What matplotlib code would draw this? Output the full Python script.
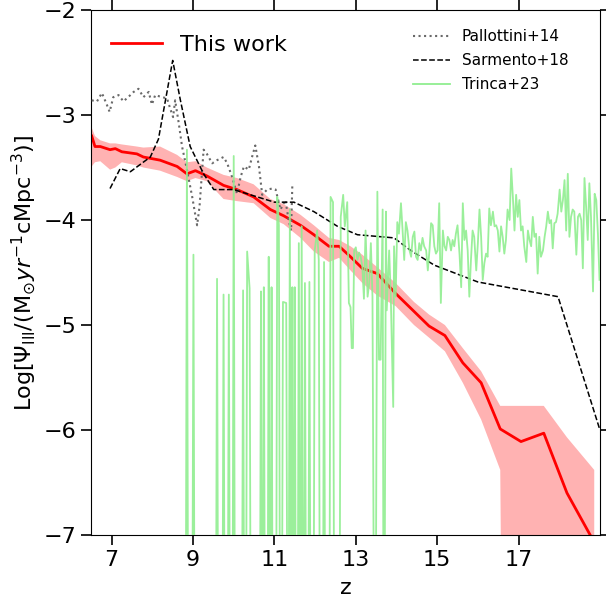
import matplotlib

matplotlib.use("Agg")
import matplotlib.pyplot as plt
import numpy as np
from matplotlib.lines import Line2D

# ------------------------------------------------------------
# This work: median Pop III SFRD and its spread
# ------------------------------------------------------------
this_z = [6.51, 6.59, 6.72, 6.96, 7.09, 7.25, 7.62, 7.78, 8.19, 8.61, 8.85,
          9.06, 9.34, 9.75, 10.08, 10.49, 10.90, 11.23, 11.64, 11.97, 12.34,
          12.59, 12.87, 13.16, 13.53, 13.98, 14.43, 14.80, 15.19, 15.63, 16.08,
          16.55, 17.06, 17.62, 18.19, 18.86]
this_sfr = [-3.20, -3.30, -3.30, -3.33, -3.32, -3.35, -3.37, -3.40, -3.43,
            -3.49, -3.56, -3.53, -3.58, -3.67, -3.71, -3.78, -3.90, -3.96,
            -4.05, -4.14, -4.25, -4.25, -4.35, -4.46, -4.51, -4.70, -4.87,
            -5.01, -5.10, -5.36, -5.55, -5.99, -6.11, -6.03, -6.60, -7.07]
this_hi = [-3.12, -3.20, -3.24, -3.27, -3.27, -3.28, -3.30, -3.31, -3.30,
           -3.38, -3.45, -3.44, -3.50, -3.57, -3.60, -3.66, -3.80, -3.85,
           -3.95, -4.05, -4.17, -4.19, -4.25, -4.33, -4.45, -4.60, -4.78,
           -4.90, -5.00, -5.22, -5.44, -5.77, -5.77, -5.77, -6.07, -6.38]
this_lo = [-3.49, -3.45, -3.44, -3.52, -3.50, -3.45, -3.48, -3.50, -3.53,
           -3.59, -3.63, -3.60, -3.63, -3.80, -3.82, -3.84, -3.98, -4.04,
           -4.17, -4.30, -4.40, -4.36, -4.48, -4.60, -4.72, -4.82, -5.00,
           -5.12, -5.25, -5.55, -5.90, -6.38, -30.0, -30.0, -30.0, -30.0]

# ------------------------------------------------------------
# Literature curves
# ------------------------------------------------------------
pallottini_z = [6.51, 6.64, 6.76, 6.88, 6.95, 7.04, 7.17, 7.29, 7.46, 7.54,
                7.66, 7.78, 7.91, 7.99, 8.07, 8.24, 8.36, 8.44, 8.51, 8.56,
                8.65, 8.73, 8.85, 8.98, 9.10, 9.16, 9.26, 9.34, 9.47, 9.59,
                9.75, 9.84, 9.96, 10.08, 10.17, 10.25, 10.37, 10.45, 10.53,
                10.62, 10.70, 10.82, 10.95, 11.03, 11.15, 11.27, 11.35, 11.41,
                11.44]
pallottini_sfr = [-2.86, -2.87, -2.79, -2.90, -2.97, -2.83, -2.81, -2.87,
                  -2.81, -2.78, -2.75, -2.83, -2.78, -2.90, -2.81, -2.83,
                  -2.84, -2.94, -3.02, -2.86, -3.08, -3.30, -3.52, -3.78,
                  -4.05, -3.87, -3.33, -3.37, -3.46, -3.43, -3.40, -3.46,
                  -3.59, -3.75, -3.59, -3.49, -3.52, -3.40, -3.29, -3.49,
                  -3.76, -3.71, -3.70, -3.71, -3.90, -3.81, -4.00, -4.10,
                  -3.67]

sarmento_z = [6.96, 7.21, 7.46, 7.95, 8.15, 8.28, 8.50, 8.69, 8.93, 9.26,
              9.51, 10.00, 10.58, 11.00, 11.48, 11.97, 12.55, 13.04, 13.94,
              14.35, 14.93, 16.00, 17.97, 19.00]
sarmento_sfr = [-3.70, -3.51, -3.54, -3.40, -3.23, -2.95, -2.48, -2.86,
                -3.30, -3.56, -3.71, -3.71, -3.78, -3.83, -3.83, -3.92,
                -4.06, -4.14, -4.17, -4.29, -4.43, -4.59, -4.73, -6.00]

# Trinca+23: empty bins are stored as a floor value far below the plot
E = -10.0
trinca_z = [
    8.81, 8.85, 8.89, 8.97, 9.01, 9.05, 9.55, 9.59, 9.63, 9.71, 9.75, 9.79,
    9.84, 9.88, 9.92, 9.96, 10.00, 10.04, 10.19, 10.23, 10.27, 10.29, 10.33,
    10.39, 10.43, 10.63, 10.67, 10.705, 10.74, 10.78, 10.82, 10.86, 10.895,
    10.93, 10.97, 11.03, 11.07, 11.11, 11.15, 11.17, 11.21, 11.29, 11.335,
    11.38, 11.41, 11.44, 11.47, 11.50, 11.54, 11.56, 11.60, 11.635, 11.67,
    11.71, 11.75, 11.79, 11.82, 11.86, 11.90, 11.95, 11.99, 12.05, 12.09,
    12.13, 12.18, 12.22, 12.26, 12.34, 12.38, 12.44, 12.48, 12.59, 12.63,
    12.69, 12.73, 12.79, 12.83, 12.87, 12.90, 12.93, 12.96, 13.00, 13.04,
    13.08, 13.12, 13.16, 13.20, 13.24, 13.29, 13.33, 13.37, 13.41, 13.47,
    13.53, 13.57, 13.61, 13.66, 13.69, 13.74, 13.76, 13.82, 13.86, 13.92,
    13.94, 13.98, 14.02, 14.06,
    14.11, 14.15, 14.19, 14.23, 14.27, 14.32, 14.36, 14.40, 14.44, 14.48,
    14.52, 14.56, 14.60, 14.64, 14.68, 14.73, 14.77, 14.81, 14.85, 14.89,
    14.93, 14.97, 15.01, 15.05, 15.09, 15.14, 15.18, 15.22, 15.26, 15.30,
    15.34, 15.38, 15.42, 15.46, 15.50, 15.55, 15.59, 15.63, 15.67, 15.71,
    15.75, 15.79, 15.83, 15.87, 15.91, 15.96, 16.00, 16.04, 16.08, 16.12,
    16.16, 16.20, 16.24, 16.28, 16.32, 16.37, 16.41, 16.45, 16.49, 16.53,
    16.57, 16.61, 16.65, 16.69, 16.73, 16.78, 16.82, 16.86, 16.90, 16.94,
    16.98, 17.02, 17.06, 17.10, 17.14, 17.19, 17.23, 17.27, 17.31, 17.35,
    17.39, 17.43, 17.47, 17.51, 17.55, 17.60, 17.64, 17.68, 17.72, 17.76,
    17.80, 17.84, 17.88, 17.92, 17.96, 18.01, 18.05, 18.09, 18.13, 18.17,
    18.21, 18.25, 18.29, 18.33, 18.37, 18.42, 18.46, 18.50, 18.54, 18.58,
    18.62, 18.66, 18.70, 18.74, 18.78, 18.83, 18.87, 18.91, 18.95, 18.99,
]
trinca_sfr = [
    E, -3.33, E, E, -4.33, E, E, -4.56, E, E, -4.71, E,
    E, -4.71, E, E, -3.39, E, E, -4.67, E, E, -4.30,
    -4.65, E, E, -4.68, E, -4.64, E, E, -4.35, E,
    -4.64, E, E, -3.78, -4.05, E, E, -4.78, -4.79, E,
    -3.90, E, -4.64, E, -4.64, E, E, -4.22, E, -4.06,
    E, -4.60, E, E, -4.59, E, E, -4.29, -4.10, -4.38,
    E, E, -4.40, E, E, -3.78, -3.83, E, E, -3.97,
    -3.76, -4.06, -3.83, -4.79, -4.83, -5.22, -5.22, -4.29, -4.26, -4.38,
    -4.31, -4.35, -4.44, -4.75, -4.10, -4.73, -4.60, -4.22, -4.73, E,
    -3.73, -5.33, -5.33, -3.90, E, -3.92, -4.86, -4.29, -4.73, -5.78,
    -4.25, -4.73, -4.02, -4.13,
    -3.84, -4.10, -4.38, -4.02, -4.10, -4.29, -4.35, -4.16, -4.11, -4.35,
    -4.38, -4.22, -4.29, -4.17, -4.25, -4.29, -4.48, -4.29, -4.03, -4.05,
    -4.25, -4.32, -4.29, -3.84, -4.79, -4.10, -4.25, -4.29, -4.16, -4.19,
    -4.29, -4.19, -4.25, -4.13, -4.05, -4.33, -4.64, -3.84, -4.19, -4.10,
    -4.29, -4.73, -4.38, -4.10, -4.16, -4.48, -4.22, -3.90, -4.16, -4.57,
    -4.41, -4.32, -4.35, -3.89, -4.05, -3.92, -4.06, -4.05, -4.10, -4.30,
    -4.06, -4.16, -4.32, -4.19, -3.90, -4.00, -3.51, -3.78, -4.10, -3.76,
    -3.97, -3.81, -4.10, -4.06, -4.25, -4.40, -4.10, -4.19, -4.25, -3.97,
    -4.16, -4.13, -4.51, -4.16, -4.35, -4.29, -4.16, -4.06, -3.92, -4.03,
    -4.00, -4.27, -4.03, -4.02, -3.94, -3.71, -3.92, -3.81, -3.62, -4.10,
    -3.56, -4.16, -3.97, -3.90, -3.92, -4.33, -3.97, -3.94, -4.00, -4.46,
    -3.60, -3.87, -4.19, -3.65, -3.97, -4.68, -3.75, -3.81, -4.13, -4.57,
]

x_ticks = [7, 9, 11, 13, 15, 17]
y_ticks = [-2, -3, -4, -5, -6, -7]


def main():
    fig = plt.figure(figsize=(6.06, 6.04), dpi=100)
    ax = fig.add_axes([0.150, 0.1142, 0.840, 0.8692])

    ax.fill_between(this_z, this_lo, this_hi, color="red", alpha=0.3,
                    linewidth=0, zorder=1)
    ax.plot(this_z, this_sfr, color="red", lw=2.0, zorder=2)

    ax.plot(pallottini_z, pallottini_sfr, color="dimgray", ls=":", lw=1.5,
            zorder=3)
    ax.plot(sarmento_z, sarmento_sfr, color="black", ls="--", lw=1.1,
            zorder=3)
    ax.plot(trinca_z, trinca_sfr, color="lightgreen", lw=1.3, alpha=0.9,
            zorder=4)

    ax.set_xlim(6.49, 19.0)
    ax.set_ylim(-7, -2)
    ax.set_xticks(x_ticks)
    ax.set_yticks(y_ticks)
    ax.tick_params(which="major", labelsize=16, length=7, width=1.2,
                   top=True, right=True, direction="out")
    ax.set_xlabel("z", fontsize=16, labelpad=6)
    ax.set_ylabel(r"Log[$\Psi_{\rm III}$/(M$_{\odot} yr^{-1}$cMpc$^{-3}$)]",
                  fontsize=16, labelpad=4)

    h_this = [Line2D([], [], color="red", lw=2.0)]
    leg1 = ax.legend(h_this, ["This work"], loc="upper left", fontsize=16,
                     frameon=False, handlelength=2.3,
                     bbox_to_anchor=(0.0, 0.99))
    ax.add_artist(leg1)

    h_lit = [
        Line2D([], [], color="dimgray", ls=":", lw=1.5),
        Line2D([], [], color="black", ls="--", lw=1.1),
        Line2D([], [], color="lightgreen", lw=1.3),
    ]
    ax.legend(h_lit, ["Pallottini+14", "Sarmento+18", "Trinca+23"],
              loc="upper right", fontsize=11, frameon=False,
              handlelength=2.4, labelspacing=0.6,
              bbox_to_anchor=(0.965, 0.99))

    fig.savefig("out.png", dpi=100)


if __name__ == "__main__":
    main()
